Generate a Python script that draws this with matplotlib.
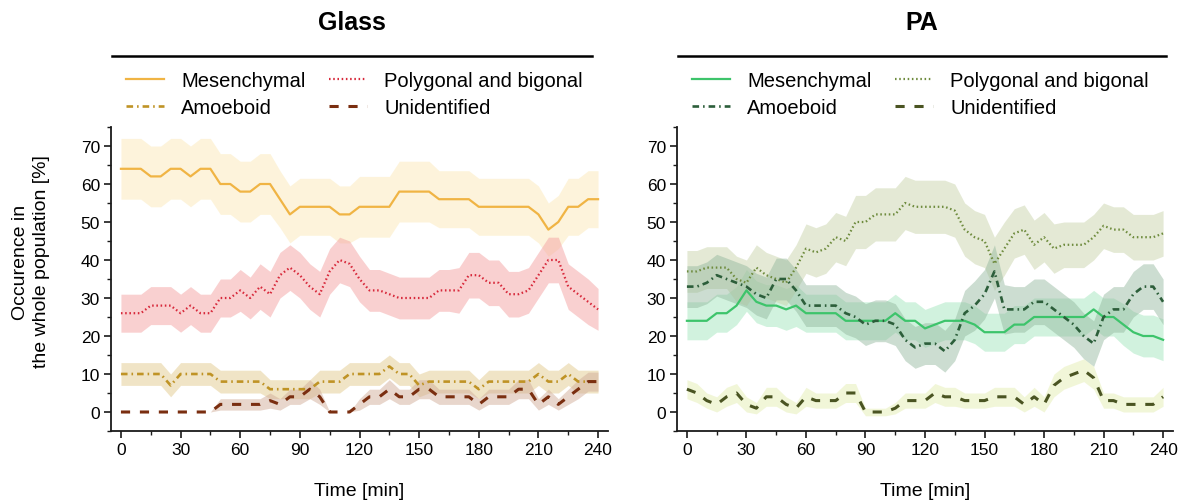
import numpy as np
import matplotlib.pyplot as plt
from matplotlib.lines import Line2D
from matplotlib.ticker import MultipleLocator

plt.rcParams['font.family'] = ['Liberation Sans', 'DejaVu Sans']

# Time points [min]
time = np.arange(0, 241, 5)

# ---- Glass: share of each morphology [%] and its spread ----
glass_mes = [64, 64, 64, 62, 62, 64, 64, 62, 64, 64,
             60, 60, 58, 58, 60, 60, 56, 52, 54, 54,
             54, 54, 52, 52, 54, 54, 54, 54, 58, 58,
             58, 58, 56, 56, 56, 56, 54, 54, 54, 54,
             54, 54, 52, 48, 50, 54, 54, 56, 56]
glass_mes_sd = [8, 8, 8, 8, 8, 8, 8, 8, 8, 8,
                8, 8, 8, 8, 8, 8, 7.5, 7.5, 7.5, 7.5,
                7.5, 7.5, 7.5, 7.5, 8, 8, 8, 8, 8, 8,
                8, 8, 7.5, 7.5, 7.5, 7.5, 7.5, 7.5, 7.5, 7.5,
                7.5, 7.5, 7.5, 7, 7, 7.5, 7.5, 7.5, 7.5]

glass_pol = [26, 26, 26, 28, 28, 28, 26, 28, 26, 26,
             30, 30, 32, 30, 33, 31, 36, 38, 36, 33,
             31, 37, 40, 39, 35, 32, 32, 31, 30, 30,
             30, 30, 32, 32, 32, 36, 36, 34, 34, 31,
             31, 32, 36, 40, 40, 33, 31, 29, 27]
glass_pol_sd = [5, 5, 5, 5, 5, 5, 5, 5, 5, 5,
                5, 5, 5.5, 5.5, 6, 6, 6, 6, 6, 6,
                6, 6, 6, 6, 6, 5.5, 5.5, 5.5, 5.5, 5.5,
                5.5, 5.5, 5.5, 5.5, 6, 6, 6, 6, 6, 6,
                6, 6, 6, 6, 6, 6, 6, 6, 5.5]

glass_amo = [10, 10, 10, 10, 10, 7, 10, 10, 10, 10,
             8, 8, 8, 8, 8, 6, 6, 6, 6, 6,
             8, 8, 8, 10, 10, 10, 10, 12, 10, 10,
             7, 8, 8, 8, 8, 8, 6, 8, 8, 8,
             8, 8, 10, 8, 8, 10, 8, 8, 8]
glass_amo_sd = [3, 3, 3, 3, 3, 3, 3, 3, 3, 3,
                3, 3, 3, 3, 3, 2.5, 2.5, 2.5, 2.5, 2.5,
                3, 3, 3, 3, 3, 3, 3, 3, 3, 3,
                3, 3, 3, 3, 3, 3, 2.5, 3, 3, 3,
                3, 3, 3, 3, 3, 3, 3, 3, 3]

glass_uni = [0, 0, 0, 0, 0, 0, 0, 0, 0, 0,
             2, 2, 2, 2, 2, 3, 2, 4, 4, 6,
             4, 0, 0, 0, 2, 4, 4, 6, 4, 4,
             6, 6, 4, 4, 4, 4, 2, 4, 4, 4,
             6, 6, 2, 4, 2, 4, 6, 8, 8]
glass_uni_sd = [0, 0, 0, 0, 0, 0, 0, 0, 0, 0,
                1.5, 1.5, 1.5, 1.5, 1.5, 2, 1.5, 2, 2, 2.5,
                2, 0, 0, 0, 1.5, 2, 2, 2.5, 2, 2,
                2.5, 2.5, 2, 2, 2, 2, 1.5, 2, 2, 2,
                2.5, 2.5, 1.5, 2, 1.5, 2, 2.5, 2.5, 2.5]

# ---- PA: share of each morphology [%] and its spread ----
pa_mes = [24, 24, 24, 26, 26, 28, 32, 29, 28, 28,
          27, 28, 26, 26, 26, 26, 24, 24, 24, 24,
          24, 26, 24, 24, 22, 23, 24, 24, 24, 23,
          21, 21, 21, 23, 23, 25, 25, 25, 25, 25,
          25, 27, 25, 25, 23, 21, 20, 20, 19]
pa_mes_sd = [5, 5, 5, 5, 5, 5, 5.5, 5.5, 5.5, 5.5,
             5.5, 5.5, 5, 5, 5, 5, 5, 5, 5, 5,
             5, 5, 5, 5, 5, 5, 5, 5, 5, 5,
             5, 5, 5, 5, 5, 5, 5, 5, 5, 5,
             5, 5, 5, 5, 5.5, 5.5, 5.5, 5.5, 5.5]

pa_pol = [37, 37, 38, 38, 38, 35, 34, 38, 36, 35,
          34, 38, 43, 42, 43, 46, 45, 50, 50, 52,
          52, 52, 55, 54, 54, 54, 54, 53, 48, 46,
          45, 39, 43, 47, 48, 44, 46, 43, 44, 44,
          44, 46, 49, 48, 48, 46, 46, 46, 47]
pa_pol_sd = [5.5, 5.5, 5.5, 5.5, 5.5, 6, 6, 6, 6, 6,
             6, 6, 6.5, 6.5, 6.5, 6.5, 6.5, 7, 7, 7,
             7, 7, 7, 7, 7, 7, 7, 7, 7, 7,
             7, 7, 7, 6.5, 6.5, 6.5, 6.5, 6.5, 6, 6,
             6, 6, 6, 6, 6, 6, 6, 6, 6]

pa_amo = [33, 33, 34, 36, 35, 34, 33, 31, 30, 35,
          35, 32, 28, 28, 28, 28, 26, 25, 23, 24,
          24, 23, 19, 17, 18, 18, 16, 19, 26, 28,
          31, 37, 27, 27, 27, 29, 29, 27, 25, 23,
          20, 18, 25, 27, 27, 31, 33, 33, 29]
pa_amo_sd = [5.5, 5.5, 5.5, 5.5, 5.5, 5.5, 5.5, 5.5, 5.5, 5.5,
             5.5, 5.5, 5.5, 5.5, 5.5, 5.5, 5.5, 5.5, 5.5, 5.5,
             5.5, 5.5, 5.5, 5.5, 5.5, 5.5, 5.5, 5.5, 6, 6.5,
             6.5, 7, 6.5, 6, 6, 6, 6, 6, 6, 6,
             6, 6, 6, 6, 6, 6, 6, 6, 6]

pa_uni = [6, 5, 3, 2, 4, 5, 2, 1, 4, 4,
          2, 1, 4, 3, 3, 3, 5, 5, 0, 0,
          0, 1, 3, 3, 3, 5, 4, 4, 3, 3,
          3, 4, 4, 4, 2, 4, 2, 7, 9, 10,
          11, 9, 3, 3, 2, 2, 2, 2, 4]
pa_uni_sd = [2.5, 2.5, 2, 2, 2.5, 2.5, 2, 1.5, 2.5, 2.5,
             2, 1.5, 2.5, 2, 2, 2, 2.5, 2.5, 1, 1,
             1, 1.5, 2, 2, 2, 2.5, 2.5, 2.5, 2, 2,
             2, 2.5, 2.5, 2.5, 2, 2.5, 2, 3, 3, 3,
             3, 3, 2, 2, 2, 2, 2, 2, 2.5]

labels = ['Mesenchymal', 'Amoeboid', 'Polygonal and bigonal', 'Unidentified']

styles = {
    'Mesenchymal': dict(ls='-', lw=1.6),
    'Polygonal and bigonal': dict(ls=(0, (0.7, 1.2)), lw=1.6),
    'Amoeboid': dict(ls=(0, (2.5, 1.5, 0.6, 1.5)), lw=1.9),
    'Unidentified': dict(ls=(0, (3.0, 3.2)), lw=2.2),
}

glass = {
    'Mesenchymal': (glass_mes, glass_mes_sd, '#F0B444', '#FBE2A2', 0.38),
    'Polygonal and bigonal': (glass_pol, glass_pol_sd, '#D7283A', '#F4A2A2', 0.5),
    'Amoeboid': (glass_amo, glass_amo_sd, '#BF9325', '#E3CB8E', 0.5),
    'Unidentified': (glass_uni, glass_uni_sd, '#7A2E10', '#D2AE9A', 0.5),
}
pa = {
    'Mesenchymal': (pa_mes, pa_mes_sd, '#3DC46B', '#A4E7BE', 0.5),
    'Polygonal and bigonal': (pa_pol, pa_pol_sd, '#6E8B3D', '#CAD5AC', 0.5),
    'Amoeboid': (pa_amo, pa_amo_sd, '#2C5E3A', '#8FB59A', 0.45),
    'Unidentified': (pa_uni, pa_uni_sd, '#4A5422', '#E5EEB3', 0.5),
}

fig = plt.figure(figsize=(11.91, 5.02), dpi=100)
W, H = 1191, 502


def px_box(x0, x1, ytop, ybot):
    return [x0 / W, 1 - ybot / H, (x1 - x0) / W, (ybot - ytop) / H]


ax_g = fig.add_axes(px_box(111, 608, 128, 432))
ax_p = fig.add_axes(px_box(677, 1173, 128, 432))


def draw(ax, data):
    draw_order = ['Mesenchymal', 'Polygonal and bigonal', 'Amoeboid', 'Unidentified']
    for name in draw_order:
        y, sd, lc, bc, a = data[name]
        y = np.asarray(y, float)
        sd = np.asarray(sd, float)
        ax.fill_between(time, y - sd, y + sd, color=bc, alpha=a, lw=0, zorder=1)
    for name in draw_order:
        y, sd, lc, bc, a = data[name]
        ax.plot(time, y, color=lc, label=name, zorder=3, **styles[name])

    ax.set_xlim(-5, 245)
    ax.set_ylim(-5, 75)
    ax.xaxis.set_major_locator(MultipleLocator(30))
    ax.xaxis.set_minor_locator(MultipleLocator(15))
    ax.yaxis.set_major_locator(MultipleLocator(10))
    ax.yaxis.set_minor_locator(MultipleLocator(5))
    for s in ['top', 'right']:
        ax.spines[s].set_visible(False)
    for s in ['left', 'bottom']:
        ax.spines[s].set_linewidth(1.3)
        ax.spines[s].set_color('#1a1a1a')
    ax.tick_params(which='major', length=5, width=1.2, labelsize=12.5,
                   color='#1a1a1a', pad=3)
    ax.tick_params(which='minor', length=3, width=1.0, color='#1a1a1a')
    ax.set_xlabel('Time [min]', fontsize=14, labelpad=18)

    handles, labs = ax.get_legend_handles_labels()
    hmap = dict(zip(labs, handles))
    ax.legend([hmap[l] for l in labels], labels, ncol=2, frameon=False,
              loc='upper left', bbox_to_anchor=(0.03, 1.183),
              fontsize=14.5, handlelength=1.9, handletextpad=0.85,
              columnspacing=1.15, labelspacing=0.38, borderpad=0,
              borderaxespad=0)


draw(ax_g, glass)
draw(ax_p, pa)

# Panel headings with rule underneath
for cx, x0, x1, title in [(352, 112, 592, 'Glass'), (922, 678, 1166, 'PA')]:
    fig.text(cx / W, 1 - 23 / H, title, ha='center', va='center',
             fontsize=18, fontweight='bold')
    fig.add_artist(Line2D([x0 / W, x1 / W], [1 - 57 / H, 1 - 57 / H],
                          transform=fig.transFigure, color='black', lw=1.8))

fig.text(31 / W, 1 - 262 / H, 'Occurence in\nthe whole population [%]',
         rotation=90, ha='center', va='center', fontsize=14,
         multialignment='center', linespacing=1.25)

fig.savefig('out.png', dpi=100)
